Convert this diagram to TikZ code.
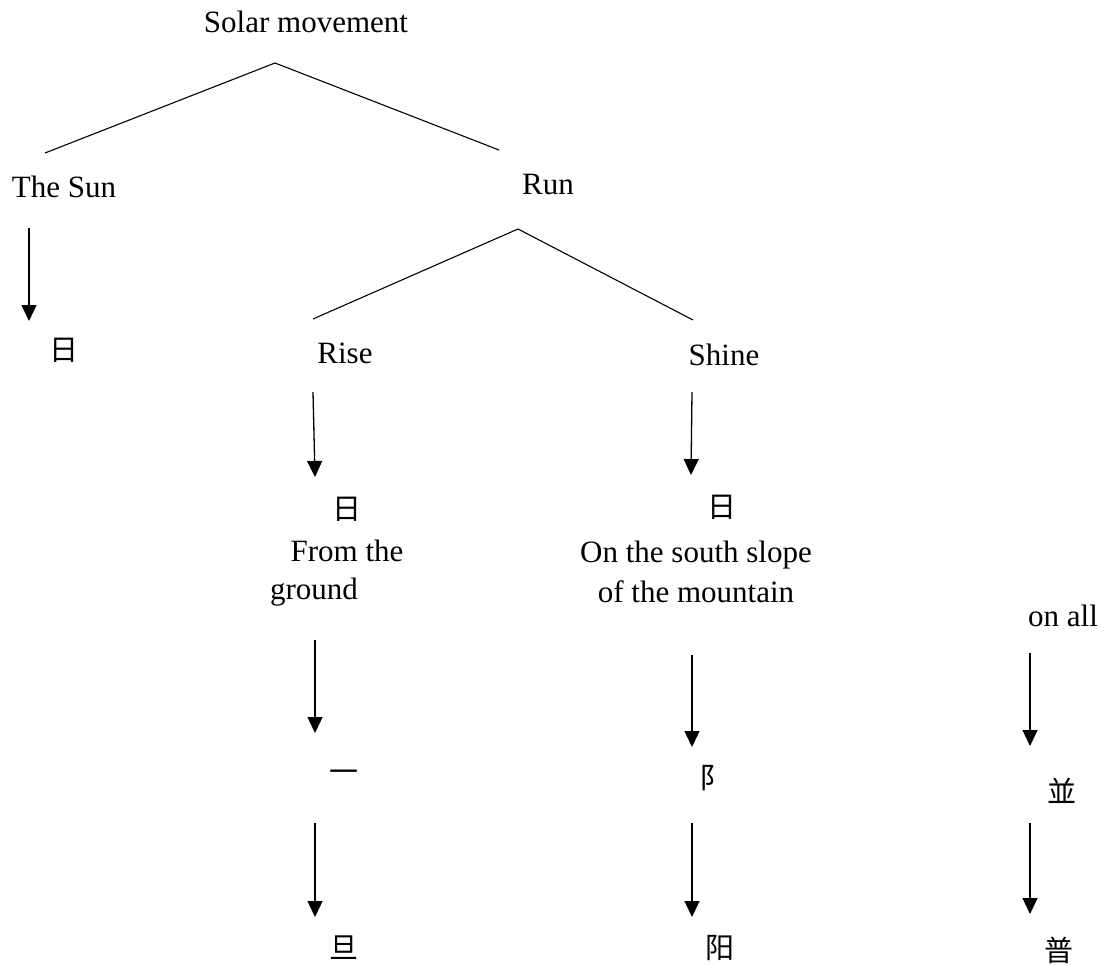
\documentclass[tikz,border=0pt]{standalone}
\usepackage{fontspec}
\setmainfont{Liberation Serif}
\newfontfamily\cjk{Noto Sans CJK SC}
\usetikzlibrary{arrows.meta}

\tikzset{
  word/.style={inner sep=0pt, font=\fontsize{31}{40}\selectfont},
  zi/.style={inner sep=0pt, font=\fontsize{29}{29}\selectfont\cjk},
}

\begin{document}
\begin{tikzpicture}[>={Triangle[width=15pt,length=16pt]}, x=1pt, y=-1pt, line width=1.3pt]
\useasboundingbox (0,0) rectangle (1107,965);

% the words
\node[word] (solar) at (306,22) {Solar movement};
\node[word] (sun) at (64,187) {The Sun};
\node[word] (run) at (548,185) {Run};
\node[word] (rise) at (345,353) {Rise};
\node[word] (shine) at (724,355) {Shine};
\node[word] (from) at (347,551) {From the};
\node[word] (ground) at (314,592) {ground};
\node[word, align=center] (slope) at (696,572) {On the south slope\\of the mountain};
\node[word] (onall) at (1063,616) {on all};

% the characters
\node[zi] (ri0) at (64,350) {日};
\node[zi] (ri1) at (347,509) {日};
\node[zi] (ri2) at (722,507) {日};
\node[zi] (yi) at (344,776) {一};
\node[zi] (fu) at (714,778) {阝};
\node[zi] (bing) at (1062,791) {並};
\node[zi] (dan) at (344,948) {旦};
\node[zi] (yang) at (720,948) {阳};
\node[zi] (pu) at (1059,950) {普};

% tree
\coordinate (top1) at (275,63);
\coordinate (sunl) at (45,153);
\coordinate (runl) at (499,150);
\coordinate (top2) at (518,229);
\coordinate (risel) at (313,319);
\coordinate (shinel) at (693,320);
\draw[line width=1.1pt] (sunl) -- (top1) -- (runl);
\draw[line width=1.1pt] (risel) -- (top2) -- (shinel);

% arrows
\foreach \n/\x/\ya/\xb/\yb in {a/29/228/29/321, b/313/392/315/477, c/692/392/691/475,
  d/315/640/315/733, e/692/655/692/747, f/1030/653/1030/746,
  g/315/823/315/917, h/692/823/692/917, i/1030/823/1030/914}
{
  \coordinate (\n0) at (\x,\ya);
  \coordinate (\n1) at (\xb,\yb);
  \draw[->] (\n0) -- (\n1);
}
\end{tikzpicture}
\end{document}
